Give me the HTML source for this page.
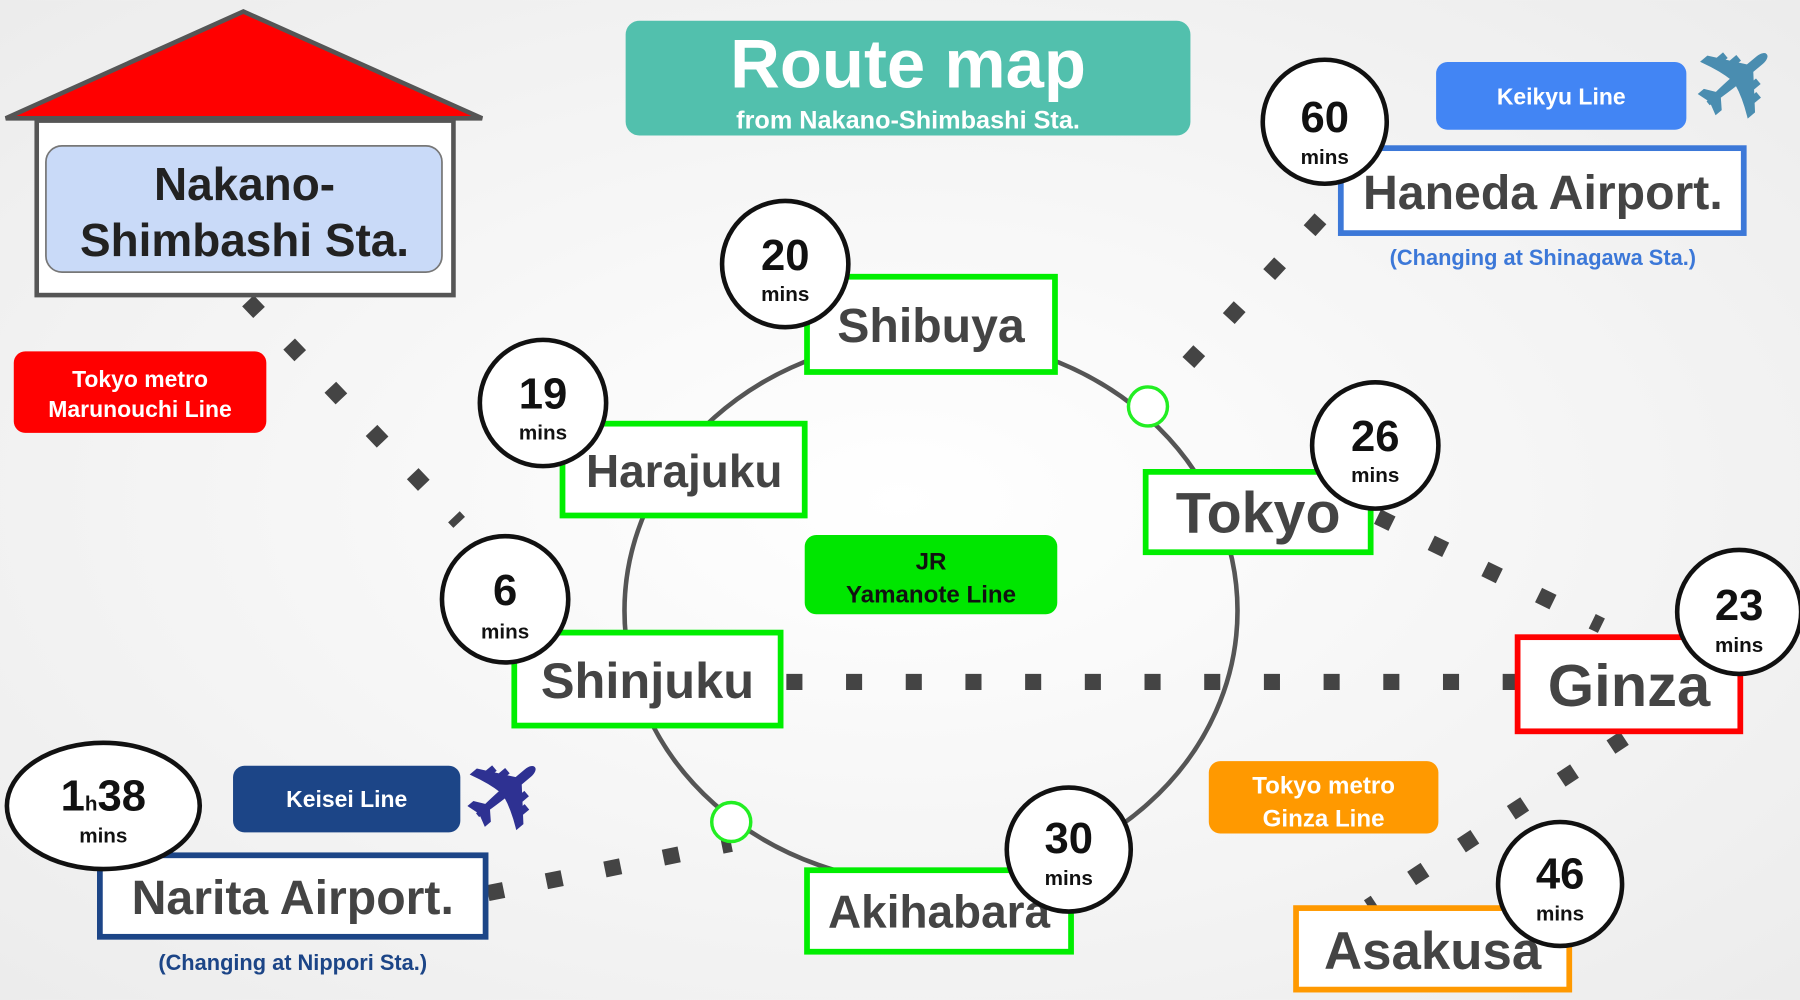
<!DOCTYPE html>
<html><head><meta charset="utf-8"><style>
html,body{margin:0;padding:0;background:#f4f4f4}
svg{display:block}
text{font-family:"Liberation Sans",sans-serif;font-weight:bold}
</style></head><body>
<svg width="1800" height="1000" viewBox="0 0 1568 871" xmlns="http://www.w3.org/2000/svg">
<defs><radialGradient id="bg" cx="0.5" cy="0.5" r="0.7"><stop offset="0" stop-color="#ffffff"/><stop offset="1" stop-color="#ececec"/></radialGradient></defs>
<rect width="1568" height="871" fill="url(#bg)"/>
<g stroke="#444" stroke-width="14" stroke-dasharray="14 38" fill="none">
<line x1="216" y1="262" x2="400" y2="455"/>
<line x1="685" y1="594" x2="1322" y2="594"/>
<line x1="1000" y1="354" x2="1160" y2="180"/>
<line x1="1200" y1="450" x2="1395" y2="545"/>
<line x1="1415" y1="643" x2="1192" y2="790"/>
<line x1="425" y1="778" x2="637" y2="735"/>
</g>
<ellipse cx="811" cy="532" rx="267" ry="238" fill="none" stroke="#555" stroke-width="4"/>
<circle cx="1000" cy="354" r="17" fill="#fff" stroke="#2e2" stroke-width="3"/>
<circle cx="637" cy="716" r="17" fill="#fff" stroke="#2e2" stroke-width="3"/>
<polygon points="5,103 212,10 420,103" fill="#ff0000" stroke="#555" stroke-width="4"/>
<rect x="32" y="105" width="363" height="152" fill="#fff" stroke="#555" stroke-width="4"/>
<rect x="40" y="127" width="345" height="110" rx="14" fill="#c9daf8" stroke="#777" stroke-width="1.5"/>
<text x="213" y="174" font-size="40" fill="#222" text-anchor="middle">Nakano-</text>
<text x="213" y="223" font-size="40" fill="#222" text-anchor="middle">Shimbashi Sta.</text>
<rect x="545" y="18" width="492" height="100" rx="12" fill="#52c0ad"/>
<text x="791" y="76" font-size="60" fill="#fff" text-anchor="middle">Route map</text>
<text x="791" y="112" font-size="22" fill="#fff" text-anchor="middle">from Nakano-Shimbashi Sta.</text>
<rect x="12" y="306" width="220" height="71" rx="10" fill="#ff0000"/>
<text x="122" y="337" font-size="20" fill="#fff" text-anchor="middle">Tokyo metro</text>
<text x="122" y="363" font-size="20" fill="#fff" text-anchor="middle">Marunouchi Line</text>
<rect x="701" y="466" width="220" height="69" rx="10" fill="#00e600"/>
<text x="811" y="496" font-size="21" fill="#111" text-anchor="middle">JR</text>
<text x="811" y="525" font-size="21" fill="#111" text-anchor="middle">Yamanote Line</text>
<rect x="1053" y="663" width="200" height="63" rx="10" fill="#ff9900"/>
<text x="1153" y="691" font-size="21" fill="#fff" text-anchor="middle">Tokyo metro</text>
<text x="1153" y="720" font-size="21" fill="#fff" text-anchor="middle">Ginza Line</text>
<rect x="1251" y="54" width="218" height="59" rx="10" fill="#4285f4"/>
<text x="1360" y="91" font-size="20" fill="#fff" text-anchor="middle">Keikyu Line</text>
<rect x="203" y="667" width="198" height="58" rx="10" fill="#1c4587"/>
<text x="302" y="703" font-size="20" fill="#fff" text-anchor="middle">Keisei Line</text>
<text x="1518" y="100" font-size="90" fill="#4a8db0" text-anchor="middle" font-family="DejaVu Sans" transform="rotate(-40 1518 75)">✈</text>
<text x="445" y="720" font-size="88" fill="#2e3192" text-anchor="middle" font-family="DejaVu Sans" transform="rotate(-40 445 695)">✈</text>
<g fill="#fff" stroke-width="5">
<rect x="703" y="241" width="216" height="83" stroke="#00ee00"/>
<rect x="490" y="369" width="211" height="80" stroke="#00ee00"/>
<rect x="998" y="411" width="196" height="70" stroke="#00ee00"/>
<rect x="448" y="551" width="232" height="81" stroke="#00ee00"/>
<rect x="703" y="758" width="230" height="71" stroke="#00ee00"/>
<rect x="1322" y="555" width="194" height="82" stroke="#ff0000"/>
<rect x="1129" y="791" width="238" height="71" stroke="#ff9900"/>
<rect x="1168" y="129" width="351" height="74" stroke="#3c78d8"/>
<rect x="87" y="745" width="336" height="71" stroke="#1c4587"/>
</g>
<g fill="#444" text-anchor="middle">
<text x="811" y="298" font-size="42">Shibuya</text>
<text x="596" y="424" font-size="40">Harajuku</text>
<text x="1096" y="464" font-size="50">Tokyo</text>
<text x="564" y="608" font-size="44">Shinjuku</text>
<text x="818" y="808" font-size="40">Akihabara</text>
<text x="1419" y="615" font-size="52">Ginza</text>
<text x="1248" y="844" font-size="46">Asakusa</text>
<text x="1344" y="182" font-size="42">Haneda Airport.</text>
<text x="255" y="796" font-size="42">Narita Airport.</text>
</g>
<text x="1344" y="231" font-size="19" fill="#3c78d8" text-anchor="middle">(Changing at Shinagawa Sta.)</text>
<text x="255" y="845" font-size="19" fill="#1c4587" text-anchor="middle">(Changing at Nippori Sta.)</text>
<g fill="#fff" stroke="#111" stroke-width="4">
<circle cx="1154" cy="106" r="54"/>
<circle cx="684" cy="230" r="55"/>
<circle cx="473" cy="351" r="55"/>
<circle cx="1198" cy="388" r="55"/>
<circle cx="440" cy="522" r="55"/>
<circle cx="1515" cy="533" r="54"/>
<circle cx="931" cy="740" r="54"/>
<circle cx="1359" cy="770" r="54"/>
<ellipse cx="90" cy="702" rx="84" ry="55"/>
</g>
<g fill="#111" text-anchor="middle">
<text x="1154" y="115" font-size="38">60</text><text x="1154" y="143" font-size="18">mins</text>
<text x="684" y="235" font-size="38">20</text><text x="684" y="262" font-size="18">mins</text>
<text x="473" y="356" font-size="38">19</text><text x="473" y="383" font-size="18">mins</text>
<text x="1198" y="393" font-size="38">26</text><text x="1198" y="420" font-size="18">mins</text>
<text x="440" y="527" font-size="38">6</text><text x="440" y="556" font-size="18">mins</text>
<text x="1515" y="540" font-size="38">23</text><text x="1515" y="568" font-size="18">mins</text>
<text x="931" y="743" font-size="38">30</text><text x="931" y="771" font-size="18">mins</text>
<text x="1359" y="774" font-size="38">46</text><text x="1359" y="802" font-size="18">mins</text>
<text x="90" y="706" font-size="38">1<tspan font-size="18">h</tspan>38</text><text x="90" y="734" font-size="18">mins</text>
</g>
</svg>
</body></html>
